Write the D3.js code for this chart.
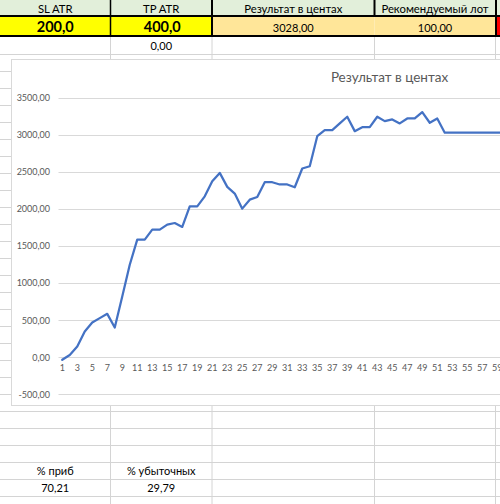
<!DOCTYPE html>
<html><head><meta charset="utf-8">
<script src="https://cdn.jsdelivr.net/npm/d3@7"></script>
<style>
html,body{margin:0;padding:0;background:#fff;overflow:hidden;}
svg{display:block;font-family:Lato,"Noto Sans",sans-serif;}
</style></head>
<body>
<svg id="c" width="500" height="504"></svg>
<script>
// ---- data ----
const chartTitle = "Результат в центах";
const categories = d3.range(1, 94);            // category axis 1..93 (chart runs past the window)
const values = [
  -35, 30, 143, 346, 468, 527, 585, 400, 819, 1247,
  1585, 1585, 1720, 1720, 1788, 1810, 1757, 2035, 2035, 2170,
  2373, 2486, 2297, 2207, 2004, 2125, 2160, 2360, 2360, 2330,
  2330, 2292, 2545, 2576, 2981, 3062, 3062, 3153, 3243, 3049,
  3103, 3103, 3243, 3184, 3207, 3153, 3220, 3220, 3306, 3162,
  3220, 3028, 3028, 3028, 3028, 3028, 3028, 3028, 3028, 3028
];
const yTicks = [-500, 0, 500, 1000, 1500, 2000, 2500, 3000, 3500];
const xTickLabels = d3.range(1, 60, 2);        // labels visible in the window: 1,3,...,59
const headerLabels = ["SL ATR", "TP ATR", "Результат в центах", "Рекомендуемый лот"];
const inputValues = ["200,0", "400,0"];
const resultValues = ["3028,00", "100,00"];
const row3Values = ["", "0,00"];
const statLabels = ["% приб", "% убыточных"];
const statValues = ["70,21", "29,79"];

// ---- sheet geometry ----
const svg = d3.select("#c");
const colEdges = [0, 110.5, 212, 374.5, 495.5, 520];
const cellCenter = i => (colEdges[i] + colEdges[i + 1]) / 2;
const gridCol = "#d4d4d4";

svg.append("rect").attr("width", 500).attr("height", 504).attr("fill", "#fff");

// row lines of the sheet (under the chart)
const rowLines = d3.range(0, 27).map(k => 54.5 + 17 * k).filter(y => y < 504);
svg.selectAll("line.row").data(rowLines).enter().append("line")
  .attr("x1", 0).attr("x2", 500).attr("y1", d => d).attr("y2", d => d)
  .attr("stroke", gridCol).attr("stroke-width", 1);
svg.selectAll("line.col").data(colEdges.slice(1, 5)).enter().append("line")
  .attr("x1", d => d).attr("x2", d => d).attr("y1", 37).attr("y2", 504)
  .attr("stroke", gridCol).attr("stroke-width", 1);

// header row
svg.append("rect").attr("x", 0).attr("y", 0).attr("width", 500).attr("height", 16).attr("fill", "#e2efda");
// input row fills
const row2Fill = ["#ffff00", "#ffff00", "#ffe699", "#ffe699", "#ff0000"];
row2Fill.forEach((c, i) => {
  svg.append("rect").attr("x", colEdges[i]).attr("y", 16)
    .attr("width", colEdges[i + 1] - colEdges[i]).attr("height", 20).attr("fill", c);
});
// black borders
svg.append("line").attr("x1", 0).attr("x2", 500).attr("y1", 16).attr("y2", 16).attr("stroke", "#000").attr("stroke-width", 2);
svg.append("line").attr("x1", 0).attr("x2", 500).attr("y1", 36).attr("y2", 36).attr("stroke", "#000").attr("stroke-width", 2.2);
[110.5, 212, 374.5, 496].forEach((x, i) => {
  svg.append("line").attr("x1", x).attr("x2", x).attr("y1", 0).attr("y2", i === 2 ? 16 : 37)
    .attr("stroke", "#000").attr("stroke-width", i === 0 ? 1.5 : 2);
});

const txt = (x, y, s, size, weight) => svg.append("text").attr("x", x).attr("y", y)
  .attr("text-anchor", "middle").attr("font-size", size).attr("font-weight", weight || 400)
  .attr("fill", "#000").text(s);

headerLabels.forEach((s, i) => txt(cellCenter(i), 12.5, s, 11.3));
inputValues.forEach((s, i) => txt(cellCenter(i) + (i === 1 ? 1 : 0), 32, s, 14.5, 700));
resultValues.forEach((s, i) => txt(cellCenter(i + 2), 31.5, s, 11));
row3Values.forEach((s, i) => txt(cellCenter(i), 49.5, s, 11));
statLabels.forEach((s, i) => txt(cellCenter(i), 474.5, s, 11));
statValues.forEach((s, i) => txt(cellCenter(i), 491.5, s, 11));

// ---- chart ----
const frame = {x: 11.5, y: 59.5, w: 757, h: 346};
svg.append("rect").attr("x", frame.x).attr("y", frame.y).attr("width", frame.w).attr("height", frame.h)
  .attr("fill", "#fff").attr("stroke", "#d9d9d9").attr("stroke-width", 1);

const plotLeft = 58.5, step = 7.5;
const x = d3.scaleBand().domain(categories).range([plotLeft, plotLeft + step * categories.length]).padding(0);
const y = d3.scaleLinear().domain([-500, 3500]).range([394.3, 97.7]);

const loc = d3.formatLocale({decimal: ",", thousands: "", grouping: [3], currency: ["", ""], minus: "-"});
const fmt = loc.format(".2f");

const g = svg.append("g");
// gridlines
g.selectAll("line.grid").data(yTicks).enter().append("line")
  .attr("x1", plotLeft).attr("x2", plotLeft + step * categories.length)
  .attr("y1", d => Math.round(y(d)) + 0.5).attr("y2", d => Math.round(y(d)) + 0.5)
  .attr("stroke", "#d9d9d9").attr("stroke-width", 1);

// y axis labels
const yAxis = d3.axisLeft(y).tickValues(yTicks).tickFormat(fmt).tickSize(0).tickPadding(8.5);
const ya = g.append("g").attr("transform", `translate(${plotLeft},0)`).call(yAxis);
ya.select(".domain").remove();
ya.selectAll("text").attr("font-size", 9).attr("fill", "#595959").attr("font-family", "Lato,'Noto Sans',sans-serif");

// x axis labels (every other category), positioned at value 0
const xAxis = d3.axisBottom(x).tickValues(xTickLabels).tickSize(0).tickPadding(7);
const xa = g.append("g").attr("transform", `translate(0,${Math.round(y(0)) + 0.5})`).call(xAxis);
xa.select(".domain").remove();
xa.selectAll("text").attr("font-size", 9).attr("fill", "#595959").attr("font-family", "Lato,'Noto Sans',sans-serif");

// line
const line = d3.line().x((d, i) => x(categories[i]) + x.bandwidth() / 2).y(d => y(d));
g.append("path").datum(values).attr("d", line).attr("fill", "none")
  .attr("stroke", "#4472c4").attr("stroke-width", 2.25).attr("stroke-linejoin", "round").attr("stroke-linecap", "round");

// title
g.append("text").attr("x", frame.x + frame.w / 2 - 0.5).attr("y", 82)
  .attr("text-anchor", "middle").attr("font-size", 13.5).attr("fill", "#595959").text(chartTitle);
</script>
</body></html>
